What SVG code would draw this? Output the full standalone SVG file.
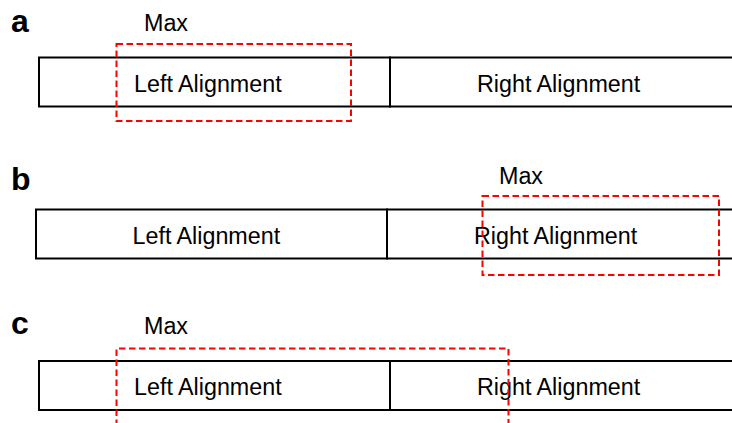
<svg xmlns="http://www.w3.org/2000/svg" width="732" height="423" viewBox="0 0 732 423">
  <style>
    .cell { fill: #ffffff; stroke: #000000; stroke-width: 2; }
    .max { fill: none; stroke: #ff0000; stroke-width: 2; stroke-dasharray: 6.5 3.5; }
    .lbl { font-family: "Liberation Sans", Arial, sans-serif; font-size: 23.3px; fill: #000000; }
    .tag { font-family: "Liberation Sans", Arial, sans-serif; font-size: 32px; font-weight: bold; fill: #000000; }
  </style>
  <rect width="732" height="423" fill="#ffffff"/>

  <!-- Panel a: max region over the left cell -->
  <g id="panel-a">
    <text class="tag" x="11" y="32">a</text>
    <g id="a-left">
      <rect class="cell" x="39" y="57.5" width="351" height="49"/>
      <text class="lbl" x="134" y="92">Left Alignment</text>
    </g>
    <g id="a-right">
      <rect class="cell" x="390" y="57.5" width="360" height="49"/>
      <text class="lbl" x="477" y="92">Right Alignment</text>
    </g>
    <g id="a-max">
      <rect class="max" x="116.5" y="44" width="234.5" height="77"/>
      <text class="lbl" x="144" y="31">Max</text>
    </g>
  </g>

  <!-- Panel b: max region over the right cell -->
  <g id="panel-b">
    <text class="tag" x="11" y="190">b</text>
    <g id="b-left">
      <rect class="cell" x="36" y="209.5" width="351" height="49"/>
      <text class="lbl" x="132.5" y="244">Left Alignment</text>
    </g>
    <g id="b-right">
      <rect class="cell" x="387" y="209.5" width="360" height="49"/>
      <text class="lbl" x="474" y="244">Right Alignment</text>
    </g>
    <g id="b-max">
      <rect class="max" x="482.5" y="196" width="236.5" height="79"/>
      <text class="lbl" x="499" y="183.5">Max</text>
    </g>
  </g>

  <!-- Panel c: max region spanning both cells -->
  <g id="panel-c">
    <text class="tag" x="11" y="334">c</text>
    <g id="c-left">
      <rect class="cell" x="39" y="361" width="351" height="49"/>
      <text class="lbl" x="134" y="395">Left Alignment</text>
    </g>
    <g id="c-right">
      <rect class="cell" x="390" y="361" width="360" height="49"/>
      <text class="lbl" x="477" y="395">Right Alignment</text>
    </g>
    <g id="c-max">
      <path class="max" d="M116.5,426 V348.5 H508.5 V426"/>
      <text class="lbl" x="144" y="334">Max</text>
    </g>
  </g>
</svg>
